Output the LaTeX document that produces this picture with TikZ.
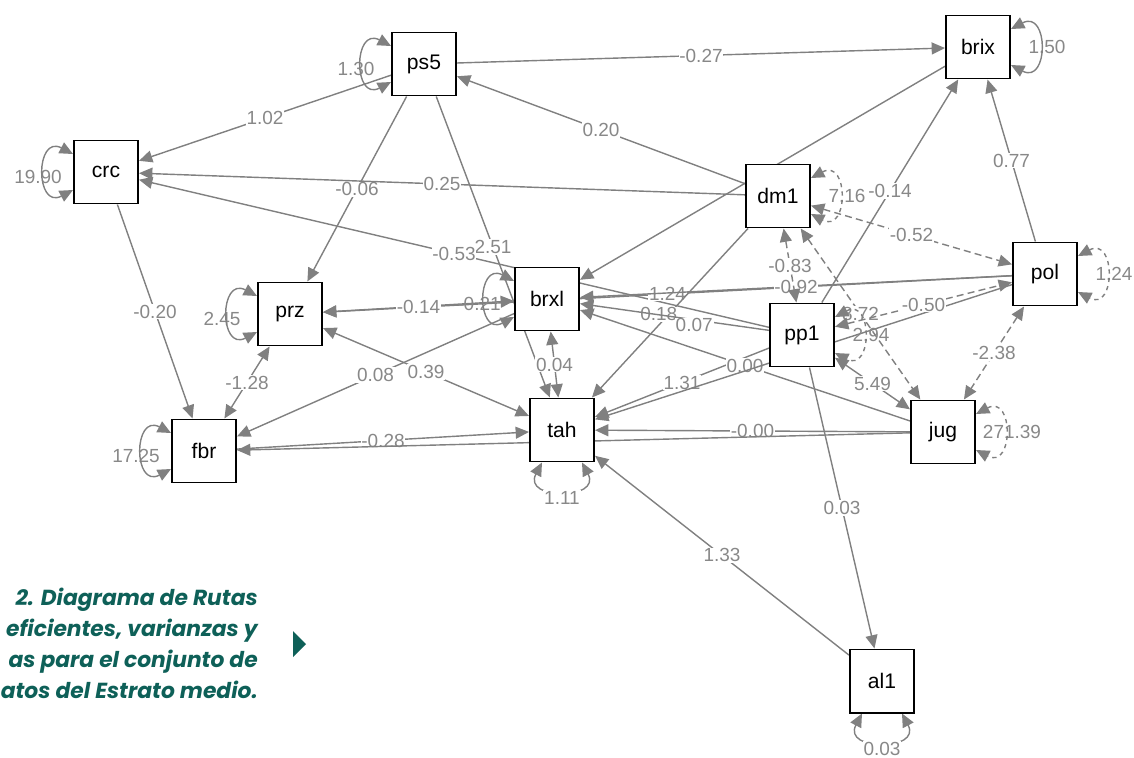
\documentclass[tikz,border=0pt]{standalone}
\usepackage{fontspec}
\setmainfont{Liberation Sans}
\newfontfamily\capfont{Poppins}
\usetikzlibrary{arrows.meta,calc}
\pgfdeclarelayer{bg}
\pgfsetlayers{bg,main}

\definecolor{edgegray}{RGB}{128,128,128}
\definecolor{lblgray}{RGB}{136,136,136}
\definecolor{capteal}{RGB}{14,96,88}

\tikzset{
  var/.style={draw=black, line width=1.4pt, fill=white, minimum width=1.6cm,
    minimum height=1.575cm, inner sep=0pt, font=\fontsize{15}{17}\selectfont},
  reg/.style={draw=edgegray, line width=1pt, ->},
  cov/.style={draw=edgegray, line width=1pt, <->},
  dcov/.style={cov, dash pattern=on 5pt off 3pt},
  lbl/.style={fill=white, text=lblgray, inner sep=0.6pt, font=\fontsize{13.5}{15}\selectfont},
  varlbl/.style={text=lblgray, inner sep=0.6pt, font=\fontsize{13.5}{15}\selectfont},
  captxt/.style={text=capteal, inner sep=0pt, font=\capfont\bfseries\itshape\fontsize{15.5}{18}\selectfont}
}

\begin{document}
\begin{tikzpicture}[x=0.025cm, y=-0.025cm, >={Triangle[length=9.5pt,width=8.5pt]}]
\useasboundingbox (0,0) rectangle (1134,758);

% Variables
\node[var] (ps5) at (424,64) {ps5};
\node[var] (brix) at (978,47) {brix};
\node[var] (crc) at (106,172) {crc};
\node[var] (dm1) at (778,196) {dm1};
\node[var] (pol) at (1045,274) {pol};
\node[var] (brxl) at (547,299) {brxl};
\node[var] (prz) at (290,314) {prz};
\node[var] (pp1) at (802,335) {pp1};
\node[var] (tah) at (562,430) {tah};
\node[var] (fbr) at (204,451) {fbr};
\node[var] (jug) at (943,432) {jug};
\node[var] (al1) at (882,681) {al1};

\begin{pgfonlayer}{bg}
% Regresiones
\foreach \a/\b/\v in {ps5/brix/-0.27, ps5/crc/1.02, ps5/prz/-0.06, ps5/tah/2.51,
  dm1/ps5/0.20, dm1/crc/0.25, pp1/crc/-0.53, crc/fbr/-0.20, brxl/fbr/0.08,
  pol/prz/1.24, fbr/tah/-0.28, jug/tah/-0.00, pp1/tah/1.31, jug/brxl/0.00,
  pol/brxl/-0.92, pp1/brix/-0.14, pol/brix/0.77, pp1/al1/0.03, al1/tah/1.33}
{
\draw[reg] (\a) -- (\b) node[lbl, midway] (l\a\b) {\v};
}
\draw[reg] (dm1) -- (tah) node[lbl, midway, xshift=-8pt, yshift=-1pt] (ldm1tah) {0.18};
\draw[reg] (pp1) -- (brxl) node[lbl, midway, xshift=14pt, yshift=-6pt] (lpp1brxl) {0.07};
\draw[reg] (jug) -- (fbr);
\draw[reg] (pol) -- (tah);
\draw[reg] (brix) -- (brxl);

% Covarianzas
\foreach \a/\b/\v in {prz/fbr/-1.28, prz/tah/0.39, prz/brxl/-0.14, brxl/tah/0.04, pp1/jug/5.49}
{
\draw[cov] (\a) -- (\b) node[lbl, midway] (l\a\b) {\v};
}
\foreach \a/\b/\v in {dm1/pol/-0.52, dm1/pp1/-0.83, dm1/jug/8.72, pp1/pol/-0.50, pol/jug/-2.38}
{
\draw[dcov] (\a) -- (\b) node[lbl, midway] (l\a\b) {\v};
}

% Varianzas
\foreach \n/\v/\s in {crc/19.90/solid, ps5/1.30/solid, prz/2.45/solid, fbr/17.25/solid, brxl/-0.21/solid}
{
\node[varlbl] (v\n) at ($(\n.west)+(-35,5)$) {\v};
\draw[cov, \s] ($(\n.west)+(0,-18)$) .. controls +(-38,-20) and +(-38,20) .. ($(\n.west)+(0,18)$);
}
\foreach \n/\v/\s in {brix/1.50/solid, dm1/7.16/dashed, pol/1.24/dashed, pp1/2.94/dashed, jug/271.39/dashed}
{
\node[varlbl] (v\n) at ($(\n.east)+(36,0)$) {\v};
\draw[cov, \s] ($(\n.east)+(0,-18)$) .. controls +(38,-20) and +(38,20) .. ($(\n.east)+(0,18)$);
}
\foreach \n/\v in {tah/1.11, al1/0.03}
{
\draw[cov] ($(\n.south)+(-20,0)$) .. controls +(-20,38) and +(20,38) .. ($(\n.south)+(20,0)$);
\node[lbl] (v\n) at ($(\n.south)+(0,35)$) {\v};
}
\end{pgfonlayer}

% Leyenda
\node[captxt, anchor=base east] (cap1) at (258,605) {2. Diagrama de Rutas};
\node[captxt, anchor=base east] (cap2) at (258,636) {eficientes, varianzas y};
\node[captxt, anchor=base east] (cap3) at (258,667) {as para el conjunto de};
\node[captxt, anchor=base east] (cap4) at (258,698) {atos del Estrato medio.};
\fill[capteal] (293,631) -- (306,644) -- (293,657) -- cycle;
\end{tikzpicture}
\end{document}
